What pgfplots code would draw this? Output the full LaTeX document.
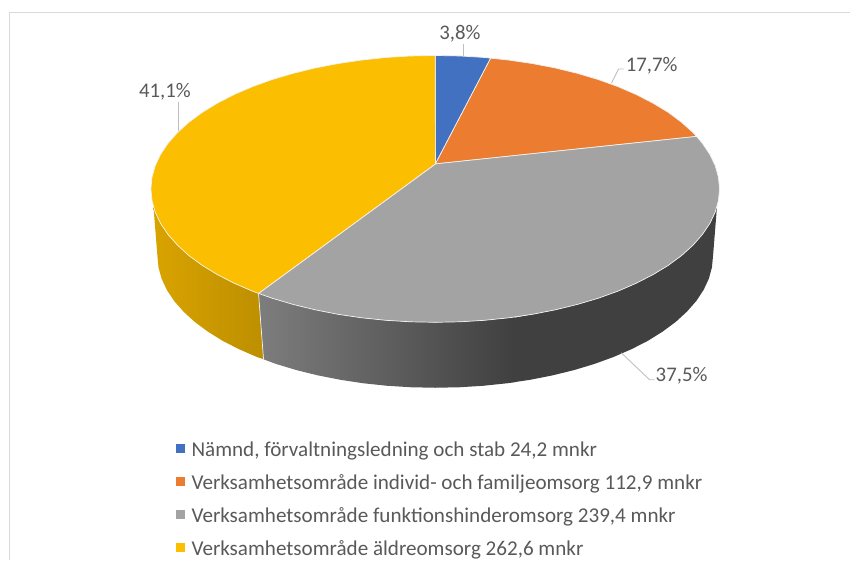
\documentclass[border=0pt]{standalone}
\usepackage{fontspec}
\setmainfont{Carlito}
\usepackage{pgfplots}
\pgfplotsset{compat=1.18}
\definecolor{cblue}{HTML}{4271C2}
\definecolor{corange}{HTML}{EB7C30}
\definecolor{cgrey}{HTML}{A3A3A3}
\definecolor{cyellow}{HTML}{FCBE00}
\definecolor{ctext}{HTML}{595959}
\definecolor{cleader}{HTML}{BFBFBF}
\definecolor{cframe}{HTML}{D9D9D9}
\definecolor{cedge}{HTML}{F2F2F2}
\begin{document}
\begin{tikzpicture}
\begin{axis}[
  scale only axis, width=851pt, height=560pt,
  xmin=0, xmax=851, ymin=0, ymax=560, y dir=reverse,
  hide axis, clip=false,
  legend style={draw=none, fill=none, at={(axis cs:176,440)}, anchor=north west,
    font=\fontsize{21.1}{23}\selectfont\color{ctext},
    inner sep=0pt, outer sep=0pt,
    /tikz/every even column/.append style={column sep=0pt},
    row sep=12.7pt, legend cell align=left},
  legend image code/.code={\fill[#1,draw=none] (0pt,-3pt) rectangle (9pt,6pt);\path[draw=none,fill=none] (0pt,0pt) -- (13.7pt,0pt);},
]
% page extent
\addplot[forget plot, draw=none, mark=none] coordinates {(0,0)(851,560)};
% frame
\addplot[forget plot, cframe, line width=1.1pt] coordinates {(9.5,560) (9.5,12.5) (851,12.5)};
% yellow side
\addplot[forget plot, draw=none, left color=cyellow!86!black, right color=cyellow!75!black] coordinates {
(258.7,293.6)(252.6,291.3)(234.3,283.4)(217.6,274.8)(202.5,265.6)(189.1,255.8)(177.7,245.4)(168.2,234.7)(160.7,223.6)(155.3,212.2)(153.5,206)
(157.5,256)(158.6,267.5)(161.7,278.9)(167.0,290.2)(174.3,301.2)(183.6,311.8)(194.7,322)(207.8,331.7)(222.5,340.9)(238.9,349.3)(256.8,357.1)(263.7,359.5)} -- cycle;
% grey side, dark part
\addplot[forget plot, draw=none, fill=black!75] coordinates {
(514,318)(532.8,314.5)(555.7,310)(577.8,304.6)(598.7,298.4)(618.4,291.3)(636.7,283.4)(653.4,274.8)(668.6,265.6)(681.9,255.8)(693.4,245.4)(702.8,234.7)(710.3,223.6)(715.7,212.2)(717.5,206)
(713.5,256)(712.4,267.5)(709.3,278.9)(704,290.2)(696.7,301.2)(687.4,311.8)(676.3,322)(663.2,331.7)(648.5,340.9)(632.1,349.3)(614.2,357.1)(595,364.1)(574.5,370.3)(553,375.6)(530.6,380)(514,382.5)} -- cycle;
% grey side, gradient part
\addplot[forget plot, draw=none, left color=black!51, right color=black!75] coordinates {
(258.7,293.6)(272.3,298.4)(293.3,304.6)(315.3,310)(338.2,314.5)(361.9,318)(386.1,320.5)(410.7,322)(435.5,322.5)(460.3,322)(484.9,320.5)(509.1,318)(515,317.3)
(515,382.5)(507.5,383.5)(483.8,386)(459.7,387.5)(435.5,388)(411.3,387.5)(387.2,386)(363.5,383.5)(340.4,380)(318,375.6)(296.5,370.3)(276,364.1)(263.7,359.5)} -- cycle;
% edges of the side
\addplot[forget plot, cedge, line width=0.7pt] coordinates {(258.7,293.6)(263.7,359.5)};
% top faces
\addplot[draw=cedge, line width=0.7pt, fill=cblue] coordinates {
(435.7,164)(435.5,55.5)(460.3,56)(484.9,57.5)(491,58.2)} -- cycle;
\addlegendentry{Nämnd, förvaltningsledning och stab 24,2 mnkr}
\addplot[draw=cedge, line width=0.7pt, fill=corange] coordinates {
(435.7,164)(491,58.2)(509.1,60.1)(532.8,63.6)(555.7,68)(577.8,73.4)(598.7,79.6)(618.4,86.7)(636.7,94.6)(653.4,103.2)(668.6,112.4)(681.9,122.3)(693.4,132.6)(697,136.5)} -- cycle;
\addlegendentry{Verksamhetsområde individ- och familjeomsorg 112,9 mnkr}
\addplot[draw=cedge, line width=0.7pt, fill=cgrey] coordinates {
(435.7,164)(697,136.5)(702.8,143.3)(710.3,154.5)(715.7,165.8)(718.9,177.4)(720,189)(718.9,200.6)(715.7,212.2)(710.3,223.6)(702.8,234.7)(693.4,245.4)(681.9,255.8)(668.6,265.6)(653.4,274.8)(636.7,283.4)(618.4,291.3)(598.7,298.4)(577.8,304.6)(555.7,310)(532.8,314.5)(509.1,318)(484.9,320.5)(460.3,322)(435.5,322.5)(410.7,322)(386.1,320.5)(361.9,318)(338.2,314.5)(315.3,310)(293.3,304.6)(272.3,298.4)(258.7,293.6)} -- cycle;
\addlegendentry{Verksamhetsområde funktionshinderomsorg 239,4 mnkr}
\addplot[draw=cedge, line width=0.7pt, fill=cyellow] coordinates {
(435.7,164)(258.7,293.6)(252.6,291.3)(234.3,283.4)(217.6,274.8)(202.5,265.6)(189.1,255.8)(177.7,245.4)(168.2,234.7)(160.7,223.6)(155.3,212.2)(152.1,200.6)(151,189)(152.1,177.4)(155.3,165.8)(160.7,154.5)(168.2,143.3)(177.7,132.6)(189.1,122.3)(202.5,112.4)(217.6,103.2)(234.3,94.6)(252.6,86.7)(272.3,79.6)(293.3,73.4)(315.3,68)(338.2,63.6)(361.9,60.1)(386.1,57.5)(410.7,56)(435.5,55.5)} -- cycle;
\addlegendentry{Verksamhetsområde äldreomsorg 262,6 mnkr}
% leader lines
\addplot[forget plot, cleader, line width=0.9pt] coordinates {(463.7,44)(463.7,56)};
\addplot[forget plot, cleader, line width=0.9pt] coordinates {(612,83)(619,69)(624,69)};
\addplot[forget plot, cleader, line width=0.9pt] coordinates {(179,102)(179,131)};
\addplot[forget plot, cleader, line width=0.9pt] coordinates {(621.7,353)(650,380)(655,380)};
% labels
\node[font=\fontsize{20.8}{23}\selectfont, text=ctext, inner sep=0pt] at (axis cs:460.3,33.5) {3,8\%};
\node[font=\fontsize{20.8}{23}\selectfont, text=ctext, inner sep=0pt] at (axis cs:652,65.5) {17,7\%};
\node[font=\fontsize{20.8}{23}\selectfont, text=ctext, inner sep=0pt] at (axis cs:165,91.5) {41,1\%};
\node[font=\fontsize{20.8}{23}\selectfont, text=ctext, inner sep=0pt] at (axis cs:682,375.5) {37,5\%};
\end{axis}
\end{tikzpicture}
\end{document}
